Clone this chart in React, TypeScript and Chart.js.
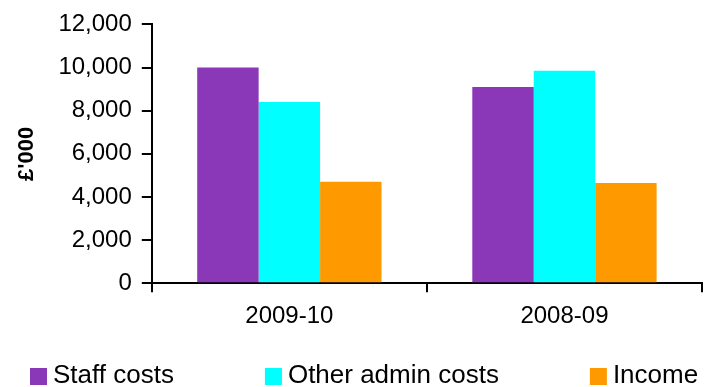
import React, { useEffect, useRef } from "react";
import { Chart, registerables } from "chart.js";

Chart.register(...registerables);

const categories = ["2009-10", "2008-09"];
const seriesNames = ["Staff costs", "Other admin costs", "Income"];
const staffCosts = [10000, 9100];
const otherAdminCosts = [8400, 9850];
const income = [4700, 4650];
const seriesColors = ["#8B38B8", "#00FFFF", "#FF9900"];
const yTicks = [0, 2000, 4000, 6000, 8000, 10000, 12000];
const yTitle = "£'000";

const FONT = "'Liberation Sans', Arial, sans-serif";

const customLegend = {
  id: "customLegend",
  afterDraw(chart: any) {
    const ctx = chart.ctx;
    const items = chart.data.datasets;
    ctx.save();
    ctx.font = `26px ${FONT}`;
    ctx.textBaseline = "alphabetic";
    ctx.textAlign = "left";
    const box = 17;
    const gap = 6;
    const spacing = 91;
    let x = 30;
    const boxTop = 368;
    const baseline = 383;
    items.forEach((ds: any) => {
      ctx.fillStyle = ds.backgroundColor;
      ctx.fillRect(x, boxTop, box, box);
      ctx.fillStyle = "#000";
      ctx.fillText(ds.label, x + box + gap, baseline);
      x += box + gap + ctx.measureText(ds.label).width + spacing;
    });
    ctx.restore();
  },
};

export default function App() {
  const ref = useRef<HTMLCanvasElement | null>(null);
  useEffect(() => {
    if (!ref.current) return;
    const seriesData = [staffCosts, otherAdminCosts, income];
    const chart = new Chart(ref.current, {
      type: "bar",
      data: {
        labels: categories,
        datasets: seriesNames.map((name, i) => ({
          label: name,
          data: seriesData[i],
          backgroundColor: seriesColors[i],
          borderWidth: 0,
          categoryPercentage: 0.67,
          barPercentage: 1.0,
        })),
      },
      options: {
        animation: false,
        responsive: false,
        maintainAspectRatio: false,
        layout: { padding: { top: 23, right: 11, bottom: 46, left: 14 } },
        plugins: {
          legend: { display: false },
          tooltip: { enabled: false },
        },
        scales: {
          x: {
            grid: {
              display: true,
              drawOnChartArea: false,
              drawTicks: true,
              tickLength: 9,
              color: "#000",
              lineWidth: 2,
              offset: true,
            },
            border: { display: true, color: "#000", width: 2 },
            ticks: {
              color: "#000",
              font: { family: FONT, size: 24 },
              padding: 10,
            },
          },
          y: {
            min: 0,
            max: 12000,
            afterBuildTicks: (axis: any) => {
              axis.ticks = yTicks.map((v) => ({ value: v }));
            },
            grid: {
              display: true,
              drawOnChartArea: false,
              drawTicks: true,
              tickLength: 10,
              color: "#000",
              lineWidth: 2,
            },
            border: { display: true, color: "#000", width: 2 },
            ticks: {
              color: "#000",
              font: { family: FONT, size: 24 },
              padding: 10,
              callback: (v: any) => Number(v).toLocaleString("en-US"),
            },
            title: {
              display: true,
              text: yTitle,
              color: "#000",
              font: { family: FONT, size: 22, weight: "bold" },
              padding: { top: 0, bottom: 8 },
            },
          },
        },
      },
      plugins: [customLegend],
    });
    return () => chart.destroy();
  }, []);
  return (
    <div style={{ position: "fixed", left: 0, top: 0, width: 713, height: 387, background: "#fff" }}>
      <canvas ref={ref} width={713} height={387} style={{ display: "block" }} />
    </div>
  );
}
